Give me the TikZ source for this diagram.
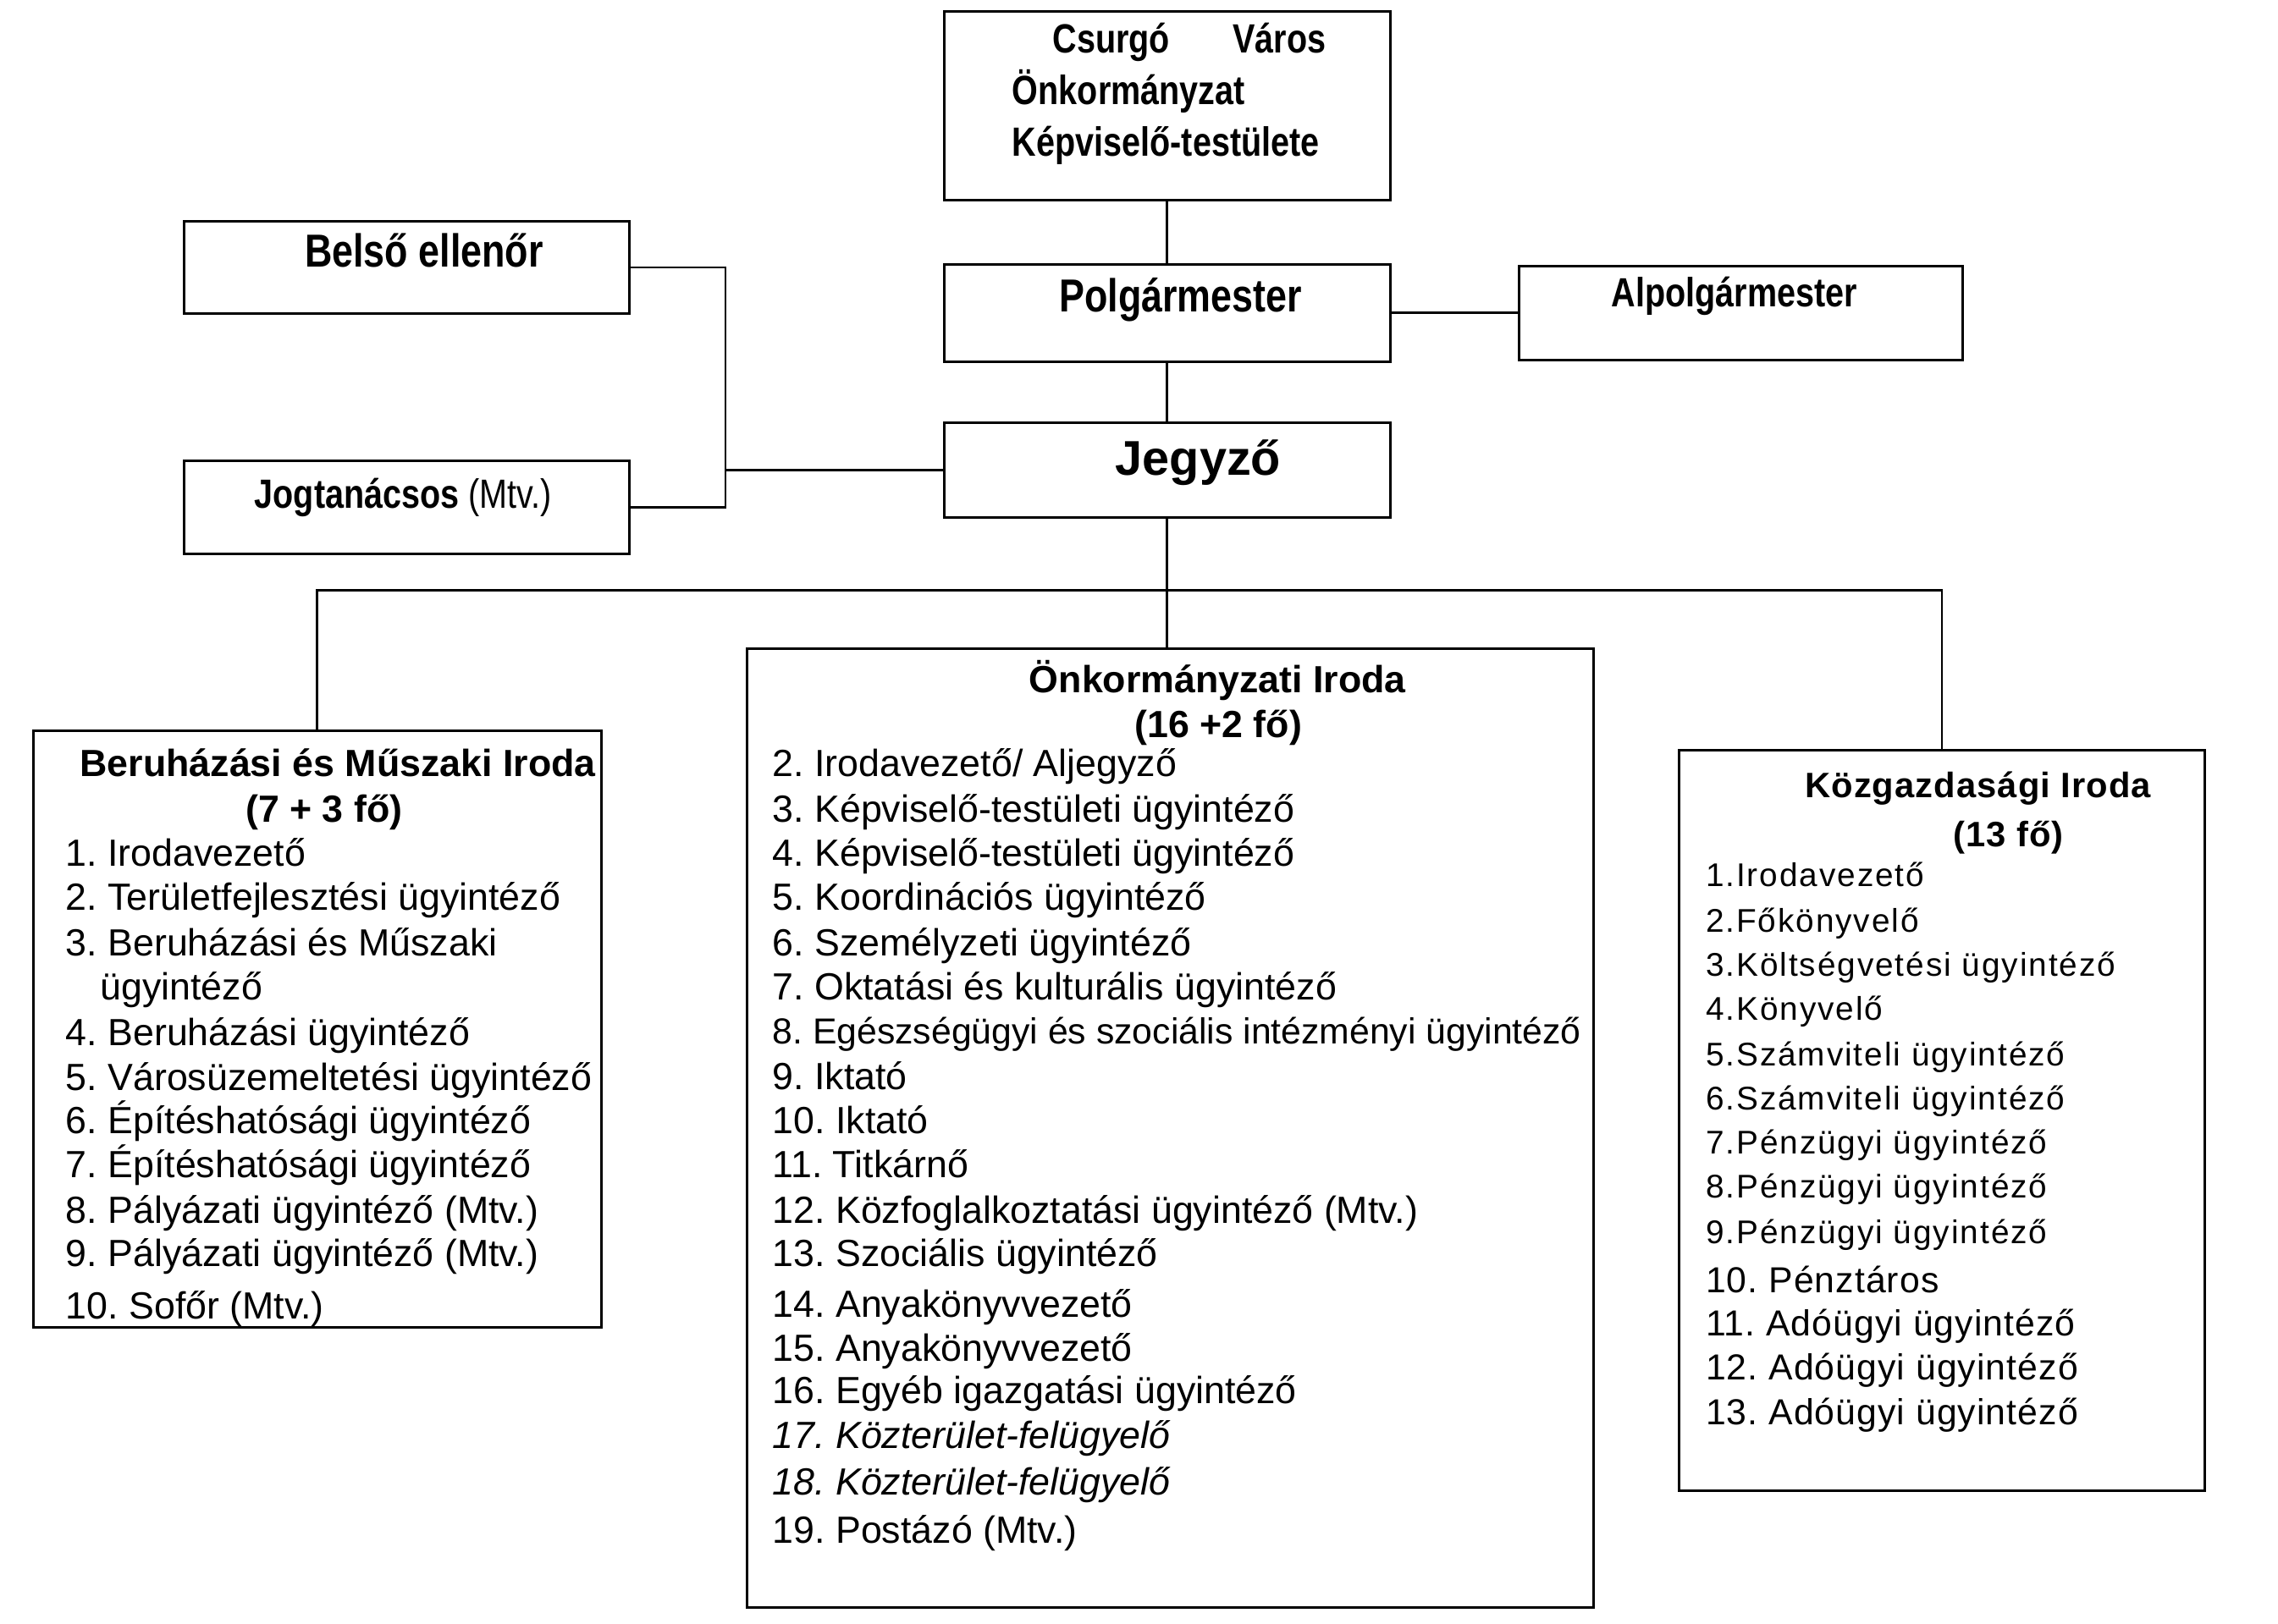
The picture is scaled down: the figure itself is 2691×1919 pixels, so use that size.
\documentclass[tikz,border=0pt]{standalone}
\usepackage{fontspec}
\setmainfont{Liberation Sans}
\newfontfamily\narrowfont[FakeStretch=0.82]{Liberation Sans}
\newfontfamily\spacedfont[LetterSpace=5]{Liberation Sans}
\newfontfamily\lspacedfont[LetterSpace=2.5]{Liberation Sans}
\frenchspacing
\begin{document}
\begin{tikzpicture}[x=1pt,y=-1pt,
  box/.style={draw, line width=3pt, inner sep=0pt},
  conn/.style={line width=2.6pt},
  txt/.style={inner sep=0pt, anchor=base west},
  ctxt/.style={inner sep=0pt, anchor=base},
  item/.style={txt, font=\fontsize{45}{53}\selectfont},
  head/.style={txt, font=\fontsize{45}{53}\selectfont\bfseries},
  chead/.style={ctxt, font=\fontsize{45}{53}\selectfont\bfseries},
  kitem/.style={txt, font=\spacedfont\fontsize{39}{53}\selectfont},
  kitemb/.style={txt, font=\lspacedfont\fontsize{43}{53}\selectfont},
  upper/.style={ctxt, font=\narrowfont\bfseries\fontsize{55}{62}\selectfont},
  uppers/.style={txt, font=\narrowfont\bfseries\fontsize{48.5}{62}\selectfont}
]
\useasboundingbox (0,0) rectangle (2691,1919);
\begin{scope}[scale=0.994, transform shape]
% boxes
\node[box, minimum width=530pt, minimum height=224pt] (top) at (1387,126) {};
\node[box, minimum width=530pt, minimum height=116pt] (polg) at (1387,372) {};
\node[box, minimum width=530pt, minimum height=112pt] (jegyzo) at (1387,559) {};
\node[box, minimum width=527pt, minimum height=112pt] (alp) at (2069,372) {};
\node[box, minimum width=529pt, minimum height=110pt] (belso) at (483,318) {};
\node[box, minimum width=529pt, minimum height=110pt] (jogt) at (483,603) {};
\node[box, minimum width=675pt, minimum height=709pt] (beruh) at (377,1223) {};
\node[box, minimum width=1006pt, minimum height=1140pt] (onk) at (1391,1341) {};
\node[box, minimum width=625pt, minimum height=881pt] (kozg) at (2308,1332) {};

% connectors
\coordinate (bk) at (862,559);
\coordinate (bus) at (1387,702);
\draw[conn] (top.south) -- (polg.north);
\draw[conn] (polg.south) -- (jegyzo.north);
\draw[conn] (polg.east) -- (alp.west);
\draw[conn] (belso.east) -| (bk) |- (jogt.east);
\draw[conn] (bk) -- (jegyzo.west);
\draw[conn] (jegyzo.south) -- (jegyzo.south |- onk.north);
\draw[conn] (beruh.north) -- (beruh.north |- bus) -- (kozg.north |- bus) -- (kozg.north);

% upper texts
\node[uppers] (t1a) at (1251,63) {Csurgó};
\node[uppers] (t1b) at (1465,63) {Város};
\node[uppers] (t2) at (1203,124) {Önkormányzat};
\node[uppers] (t3) at (1203,186) {Képviselő-testülete};
\node[upper] (tpolg) at (1403,371) {Polgármester};
\node[upper] (tbelso) at (504,317) {Belső ellenőr};
\node[ctxt, font=\narrowfont\fontsize{48.5}{62}\selectfont] (tjogt) at (479,604) {\bfseries Jogtanácsos \mdseries(Mtv.)};
\node[ctxt, font=\narrowfont\bfseries\fontsize{48.5}{62}\selectfont] (talp) at (2061,365) {Alpolgármester};
\node[ctxt, font=\bfseries\fontsize{58}{62}\selectfont] (tjegy) at (1424,565) {Jegyző};

% Beruházási
\node[head] (bh1) at (95,923) {Beruházási és Műszaki Iroda};
\node[chead] (bh2) at (385,977) {(7 + 3 fő)};
\node[item] (b1) at (78,1030) {1. Irodavezető};
\node[item] (b2) at (78,1082) {2. Területfejlesztési ügyintéző};
\node[item] (b3) at (78,1136) {3. Beruházási és Műszaki};
\node[item] (b3b) at (119,1189) {ügyintéző};
\node[item] (b4) at (78,1243) {4. Beruházási ügyintéző};
\node[item] (b5) at (78,1296) {5. Városüzemeltetési ügyintéző};
\node[item] (b6) at (78,1348) {6. Építéshatósági ügyintéző};
\node[item] (b7) at (78,1400) {7. Építéshatósági ügyintéző};
\node[item] (b8) at (78,1454) {8. Pályázati ügyintéző (Mtv.)};
\node[item] (b9) at (78,1506) {9. Pályázati ügyintéző (Mtv.)};
\node[item] (b10) at (78,1568) {10. Sofőr (Mtv.)};

% Önkormányzati
\node[head] (oh1) at (1223,823) {Önkormányzati Iroda};
\node[chead] (oh2) at (1448,877) {(16 +2 fő)};
\node[item] (o2) at (918,923) {2. Irodavezető/ Aljegyző};
\node[item] (o3) at (918,977) {3. Képviselő-testületi ügyintéző};
\node[item] (o4) at (918,1030) {4. Képviselő-testületi ügyintéző};
\node[item] (o5) at (918,1082) {5. Koordinációs ügyintéző};
\node[item] (o6) at (918,1136) {6. Személyzeti ügyintéző};
\node[item] (o7) at (918,1189) {7. Oktatási és kulturális ügyintéző};
\node[item, font=\fontsize{43}{53}\selectfont] (o8) at (918,1241) {8. Egészségügyi és szociális intézményi ügyintéző};
\node[item] (o9) at (918,1295) {9. Iktató};
\node[item] (o10) at (918,1348) {10. Iktató};
\node[item] (o11) at (918,1400) {11. Titkárnő};
\node[item] (o12) at (918,1454) {12. Közfoglalkoztatási ügyintéző (Mtv.)};
\node[item] (o13) at (918,1506) {13. Szociális ügyintéző};
\node[item] (o14) at (918,1566) {14. Anyakönyvvezető};
\node[item] (o15) at (918,1618) {15. Anyakönyvvezető};
\node[item] (o16) at (918,1668) {16. Egyéb igazgatási ügyintéző};
\node[item, font=\fontsize{45}{53}\selectfont\itshape] (o17) at (918,1722) {17. Közterület-felügyelő};
\node[item, font=\fontsize{45}{53}\selectfont\itshape] (o18) at (918,1777) {18. Közterület-felügyelő};
\node[item] (o19) at (918,1834) {19. Postázó (Mtv.)};

% Közgazdasági
\node[txt, font=\lspacedfont\bfseries\fontsize{42}{53}\selectfont] (kh1) at (2145,948) {Közgazdasági Iroda};
\node[ctxt, font=\lspacedfont\bfseries\fontsize{42}{53}\selectfont] (kh2) at (2387,1007) {(13 fő)};
\node[kitem] (k1) at (2027,1054) {1.Irodavezető};
\node[kitem] (k2) at (2027,1108) {2.Főkönyvelő};
\node[kitem] (k3) at (2027,1160) {3.Költségvetési ügyintéző};
\node[kitem] (k4) at (2027,1213) {4.Könyvelő};
\node[kitem] (k5) at (2027,1267) {5.Számviteli ügyintéző};
\node[kitem] (k6) at (2027,1319) {6.Számviteli ügyintéző};
\node[kitem] (k7) at (2027,1372) {7.Pénzügyi ügyintéző};
\node[kitem] (k8) at (2027,1424) {8.Pénzügyi ügyintéző};
\node[kitem] (k9) at (2027,1478) {9.Pénzügyi ügyintéző};
\node[kitemb] (k10) at (2027,1537) {10. Pénztáros};
\node[kitemb] (k11) at (2027,1588) {11. Adóügyi ügyintéző};
\node[kitemb] (k12) at (2027,1640) {12. Adóügyi ügyintéző};
\node[kitemb] (k13) at (2027,1694) {13. Adóügyi ügyintéző};
\end{scope}
\end{tikzpicture}
\end{document}
